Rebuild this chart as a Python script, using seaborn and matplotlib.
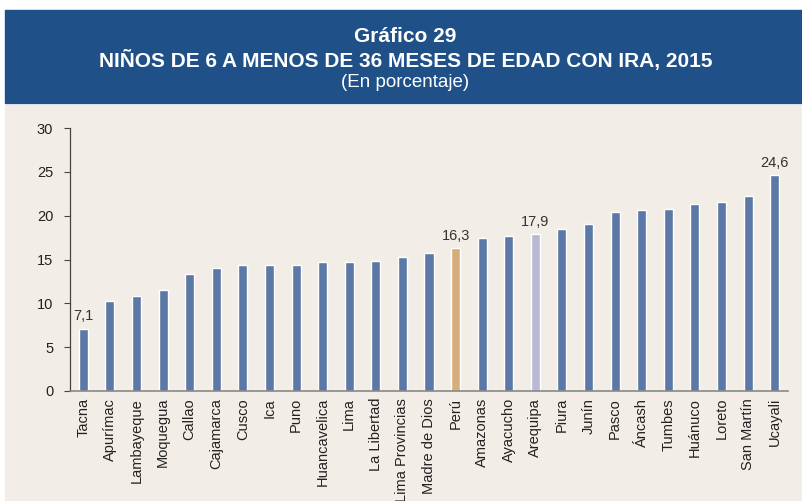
import pandas as pd
import numpy as np
import matplotlib
matplotlib.use('Agg')
import matplotlib.pyplot as plt
from matplotlib.patches import Rectangle
from matplotlib.ticker import FixedLocator
import seaborn as sns

# Data
regiones = ['Tacna', 'Apurímac', 'Lambayeque', 'Moquegua', 'Callao', 'Cajamarca',
            'Cusco', 'Ica', 'Puno', 'Huancavelica', 'Lima', 'La Libertad',
            'Lima Provincias', 'Madre de Dios', 'Perú', 'Amazonas', 'Ayacucho',
            'Arequipa', 'Piura', 'Junín', 'Pasco', 'Áncash', 'Tumbes', 'Huánuco',
            'Loreto', 'San Martín', 'Ucayali']
valores = [7.1, 10.3, 10.8, 11.5, 13.3, 14.0, 14.4, 14.4, 14.4, 14.7, 14.7, 14.8,
           15.3, 15.7, 16.3, 17.5, 17.7, 17.9, 18.5, 19.1, 20.4, 20.7, 20.8, 21.3,
           21.6, 22.3, 24.6]
etiquetas = ['Tacna', 'Perú', 'Arequipa', 'Ucayali']

azul = '#5b78a6'
colores = {r: azul for r in regiones}
colores['Perú'] = '#d6ae7b'
colores['Arequipa'] = '#b9b9d3'

df = pd.DataFrame({'region': regiones, 'valor': valores})

sns.set_style('white')
plt.rcParams['font.family'] = ['Liberation Sans', 'DejaVu Sans']

fig = plt.figure(figsize=(8.03, 5.01), dpi=100)
fig.patch.set_facecolor('white')

# header band and beige panel
fig.patches.append(Rectangle((5 / 803, 1 - 103 / 501), 1, 93 / 501,
                             transform=fig.transFigure, color='#1f5188', zorder=-10))
fig.patches.append(Rectangle((5 / 803, 0), 1, 1 - 105 / 501,
                             transform=fig.transFigure, color='#f2eee7', zorder=-10))

fig.text(0.505, 1 - 37 / 501, 'Gráfico 29', color='white', fontsize=15,
         fontweight='bold', ha='center', va='center')
fig.text(0.505, 1 - 60 / 501, 'NIÑOS DE 6 A MENOS DE 36 MESES DE EDAD CON IRA, 2015',
         color='white', fontsize=15, fontweight='bold', ha='center', va='center')
fig.text(0.505, 1 - 83 / 501, '(En porcentaje)', color='white', fontsize=13.5,
         ha='center', va='center')

ax = fig.add_axes([70 / 803, 1 - 391 / 501, 718 / 803, 263 / 501])
ax.set_facecolor('none')
ax.set_zorder(2)

sns.barplot(data=df, x='region', y='valor', hue='region', palette=colores,
            width=0.34, legend=False, ax=ax, saturation=1)

for r, v in zip(regiones, valores):
    if r in etiquetas:
        i = regiones.index(r)
        ax.text(i, v + 0.6, f'{v:.1f}'.replace('.', ','), ha='center', va='bottom',
                fontsize=10.5, color='#333333')

ax.set_xlim(-0.5, len(regiones) - 0.5)
ax.set_ylim(0, 30)
ax.set_yticks(range(0, 31, 5))
ax.set_xlabel('')
ax.set_ylabel('')

ax.set_xticks(range(len(regiones)))
ax.set_xticklabels(regiones, rotation=90)
ax.xaxis.set_minor_locator(FixedLocator(np.arange(-0.5, len(regiones), 1)))
ax.tick_params(axis='x', which='major', length=0, pad=5, labelsize=10.5, labelcolor='#222222')
ax.tick_params(axis='x', which='minor', length=4, width=0.8, color='#555555', direction='out')
ax.tick_params(axis='y', length=4, width=0.8, color='#444444', direction='out',
               labelsize=10.5, labelcolor='#222222', pad=8)
ax.tick_params(axis='both', bottom=True, left=True)

for s in ['top', 'right']:
    ax.spines[s].set_visible(False)
ax.spines['left'].set_color('#444444')
ax.spines['bottom'].set_color('#888888')
ax.spines['left'].set_linewidth(0.9)
ax.spines['bottom'].set_linewidth(1.2)

fig.savefig('out.png', dpi=100)
